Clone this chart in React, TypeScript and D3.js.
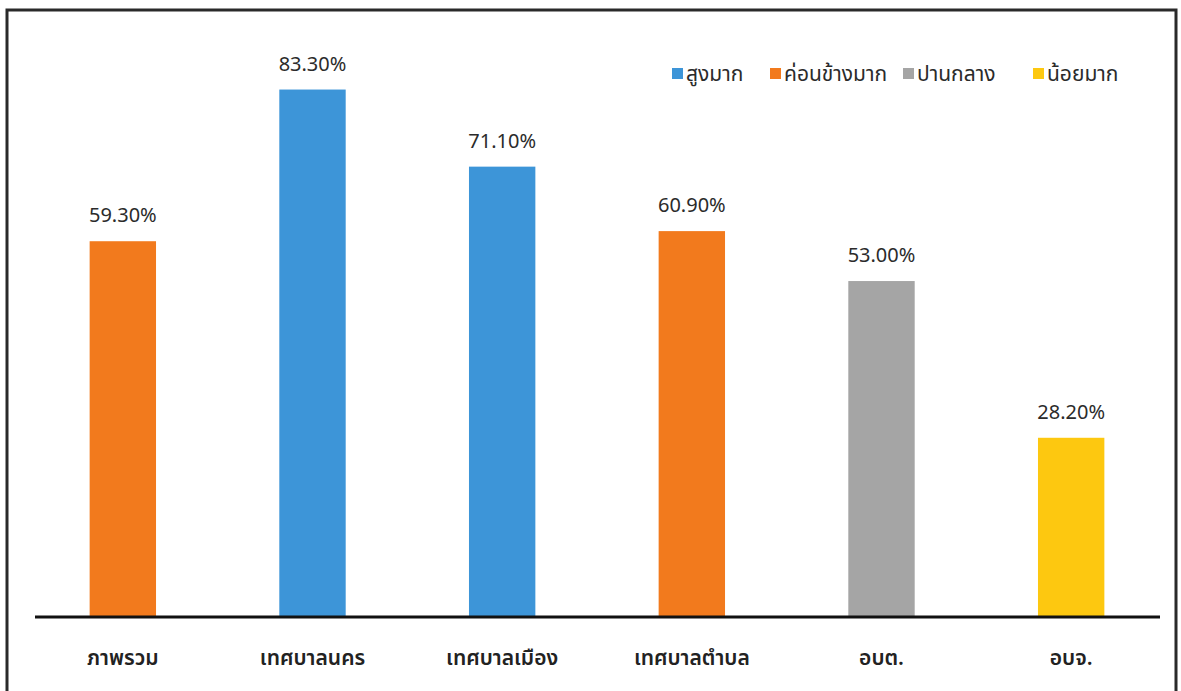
import React, { useEffect, useRef } from 'react';
import * as d3 from 'd3';

const categories = ['ภาพรวม', 'เทศบาลนคร', 'เทศบาลเมือง', 'เทศบาลตำบล', 'อบต.', 'อบจ.'];
const values = [59.3, 83.3, 71.1, 60.9, 53.0, 28.2];
// level index per bar: 0 สูงมาก, 1 ค่อนข้างมาก, 2 ปานกลาง, 3 น้อยมาก
const levelOf = [1, 0, 0, 1, 2, 3];
const levels = ['สูงมาก', 'ค่อนข้างมาก', 'ปานกลาง', 'น้อยมาก'];
const levelColors = ['#3d95d8', '#f27a1d', '#a5a5a5', '#fdc810'];

const W = 1181;
const H = 691;
const FONT = "'Noto Sans Thai', 'Noto Sans', 'Tahoma', sans-serif";

const App: React.FC = () => {
  const svgRef = useRef<SVGSVGElement>(null);

  useEffect(() => {
    document.body.style.margin = '0';
    if (!svgRef.current) return;
    const svg = d3.select(svgRef.current);
    svg.selectAll('*').remove();

    // frame
    svg
      .append('path')
      .attr('d', `M7,${H + 5} V10 H1176 V${H + 5}`)
      .attr('fill', 'none')
      .attr('stroke', '#2a2a2a')
      .attr('stroke-width', 3);

    const baseY = 616;
    const x = d3.scaleBand<string>().domain(categories).range([28, 1166]).paddingInner(0.65).paddingOuter(0.325);
    const y = d3.scaleLinear().domain([0, 90]).range([baseY, baseY - 90 * 6.32]);

    const g = svg.append('g');

    // bars
    g.selectAll('rect.bar')
      .data(values)
      .enter()
      .append('rect')
      .attr('class', 'bar')
      .attr('x', (_, i) => x(categories[i])!)
      .attr('width', x.bandwidth())
      .attr('y', (d) => y(d))
      .attr('height', (d) => baseY - y(d))
      .attr('fill', (_, i) => levelColors[levelOf[i]]);

    // value labels
    g.selectAll('text.val')
      .data(values)
      .enter()
      .append('text')
      .attr('class', 'val')
      .attr('x', (_, i) => x(categories[i])! + x.bandwidth() / 2)
      .attr('y', (d) => y(d) - 19)
      .attr('text-anchor', 'middle')
      .attr('font-family', FONT)
      .attr('font-size', 20)
      .attr('fill', '#2b2b2b')
      .text((d) => d.toFixed(2) + '%');

    // axis line
    g.append('line')
      .attr('x1', 35)
      .attr('x2', 1160)
      .attr('y1', baseY + 1)
      .attr('y2', baseY + 1)
      .attr('stroke', '#111')
      .attr('stroke-width', 3);

    // category labels
    g.selectAll('text.cat')
      .data(categories)
      .enter()
      .append('text')
      .attr('class', 'cat')
      .attr('x', (d) => x(d)! + x.bandwidth() / 2)
      .attr('y', 665)
      .attr('text-anchor', 'middle')
      .attr('font-family', FONT)
      .attr('font-size', 21)
      .attr('font-weight', 600)
      .attr('fill', '#222')
      .text((d) => d);

    // legend
    const legendX = [672, 770, 903, 1033];
    const lg = svg.append('g');
    levels.forEach((lv, i) => {
      lg.append('rect')
        .attr('x', legendX[i])
        .attr('y', 68)
        .attr('width', 11)
        .attr('height', 11)
        .attr('fill', levelColors[i]);
      lg.append('text')
        .attr('x', legendX[i] + 14)
        .attr('y', 81)
        .attr('font-family', FONT)
        .attr('font-size', 21)
        .attr('fill', '#2b2b2b')
        .text(lv);
    });
  }, []);

  return <svg ref={svgRef} width={W} height={H} style={{ display: 'block', background: '#fff' }} />;
};

export default App;
